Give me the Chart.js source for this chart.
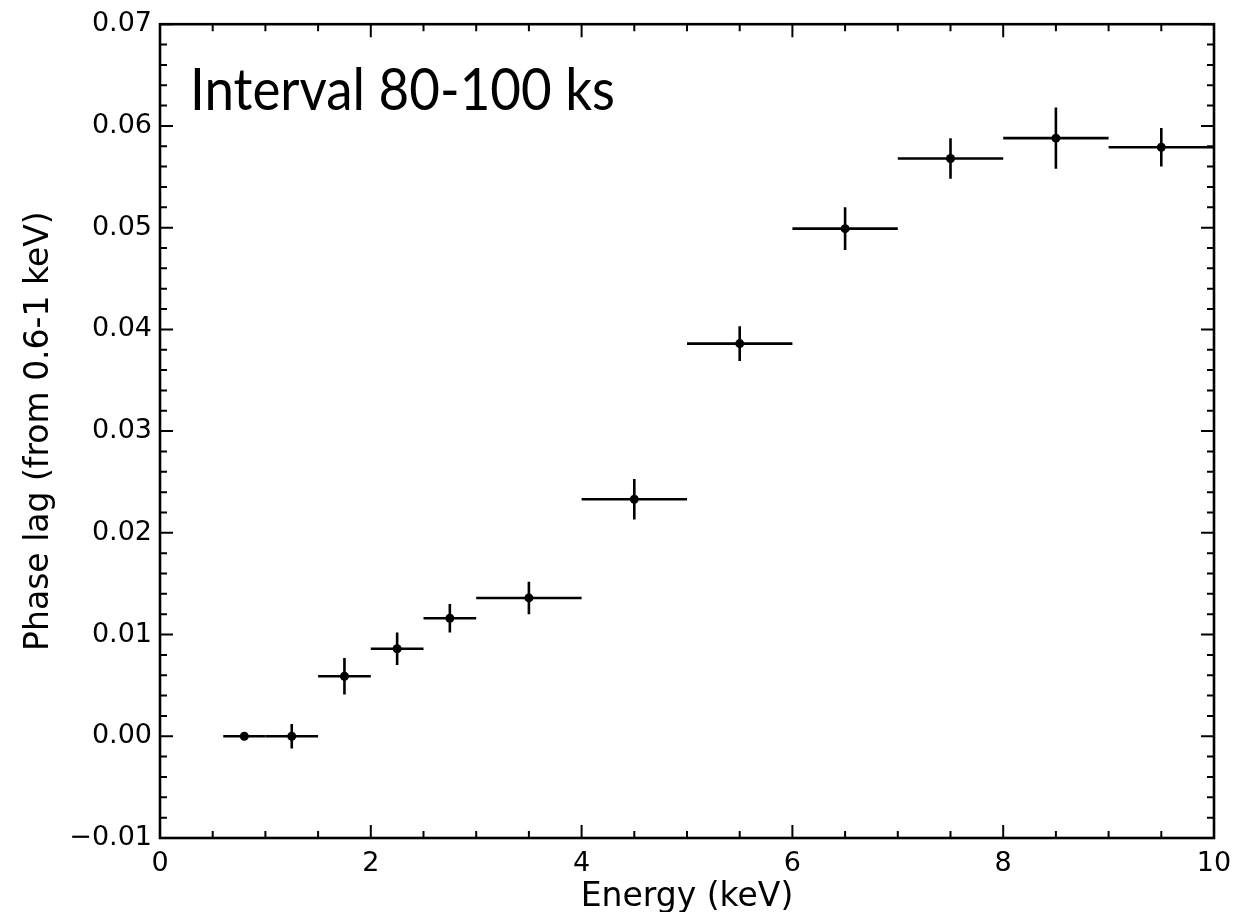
<!DOCTYPE html>
<html>
<head>
<meta charset="utf-8">
<script src="https://cdn.jsdelivr.net/npm/chart.js@4/dist/chart.umd.min.js"></script>
<style>
  html, body { margin: 0; padding: 0; background: #ffffff; }
  #wrap { width: 1258px; height: 912px; position: relative; }
</style>
</head>
<body>
<div id="wrap"><canvas id="c" width="1258" height="912"></canvas></div>
<script>
// ---- data ----
const energy   = [0.8, 1.25, 1.75, 2.25, 2.75, 3.5, 4.5, 5.5, 6.5, 7.5, 8.5, 9.5];
const binLow   = [0.6, 1.0, 1.5, 2.0, 2.5, 3.0, 4.0, 5.0, 6.0, 7.0, 8.0, 9.0];
const binHigh  = [1.0, 1.5, 2.0, 2.5, 3.0, 4.0, 5.0, 6.0, 7.0, 8.0, 9.0, 10.0];
const phaseLag = [0.0, 0.0, 0.0059, 0.0086, 0.0116, 0.0136, 0.0233, 0.0386, 0.0499, 0.0568, 0.0588, 0.0579];
const lagErr   = [0.0, 0.0012, 0.0018, 0.0016, 0.0014, 0.0016, 0.0020, 0.0017, 0.0021, 0.0020, 0.0030, 0.0019];

const xMajorTicks = [0, 2, 4, 6, 8, 10];
const yMajorTicks = [-0.01, 0.0, 0.01, 0.02, 0.03, 0.04, 0.05, 0.06, 0.07];
const xMinorStep = 0.5;
const yMinorStep = 0.002;

const annotationText = 'Interval 80-100 ks';
const xTitle = 'Energy (keV)';
const yTitle = 'Phase lag (from 0.6-1 keV)';

const axisFont = 'DejaVu Sans';

// ---- plugins ----
const errorBarPlugin = {
  id: 'errorBars',
  beforeDatasetsDraw(chart) {
    const ctx = chart.ctx;
    const xs = chart.scales.x, ys = chart.scales.y;
    ctx.save();
    ctx.strokeStyle = '#000';
    ctx.lineWidth = 2.6;
    ctx.lineCap = 'butt';
    for (let i = 0; i < energy.length; i++) {
      const yc = ys.getPixelForValue(phaseLag[i]);
      const xc = xs.getPixelForValue(energy[i]);
      ctx.beginPath();
      ctx.moveTo(xs.getPixelForValue(binLow[i]), yc);
      ctx.lineTo(xs.getPixelForValue(binHigh[i]), yc);
      if (lagErr[i] > 0) {
        ctx.moveTo(xc, ys.getPixelForValue(phaseLag[i] + lagErr[i]));
        ctx.lineTo(xc, ys.getPixelForValue(phaseLag[i] - lagErr[i]));
      }
      ctx.stroke();
    }
    ctx.restore();
  }
};

const frameTicksPlugin = {
  id: 'frameTicks',
  afterDatasetsDraw(chart) {
    const ctx = chart.ctx;
    const a = chart.chartArea;
    const xs = chart.scales.x, ys = chart.scales.y;
    const majLen = 13, minLen = 7;
    ctx.save();
    ctx.strokeStyle = '#000';
    ctx.lineWidth = 2;
    ctx.beginPath();
    const nx = Math.round((xs.max - xs.min) / xMinorStep);
    for (let k = 0; k <= nx; k++) {
      const v = xs.min + k * xMinorStep;
      const isMaj = xMajorTicks.some(t => Math.abs(t - v) < 1e-9);
      const len = isMaj ? majLen : minLen;
      const px = xs.getPixelForValue(v);
      ctx.moveTo(px, a.bottom); ctx.lineTo(px, a.bottom - len);
      ctx.moveTo(px, a.top); ctx.lineTo(px, a.top + len);
    }
    const ny = Math.round((ys.max - ys.min) / yMinorStep);
    for (let k = 0; k <= ny; k++) {
      const v = ys.min + k * yMinorStep;
      const isMaj = yMajorTicks.some(t => Math.abs(t - v) < 1e-9);
      const len = isMaj ? majLen : minLen;
      const py = ys.getPixelForValue(v);
      ctx.moveTo(a.left, py); ctx.lineTo(a.left + len, py);
      ctx.moveTo(a.right, py); ctx.lineTo(a.right - len, py);
    }
    ctx.stroke();
    ctx.lineWidth = 2.6;
    ctx.strokeRect(a.left, a.top, a.right - a.left, a.bottom - a.top);
    // annotation text (narrowed to approximate a Gill Sans look)
    ctx.fillStyle = '#000';
    ctx.font = '59px Lato';
    ctx.textBaseline = 'alphabetic';
    ctx.textAlign = 'left';
    const w = ctx.measureText(annotationText).width;
    const sx = 425 / w;
    ctx.translate(a.left + 30, a.top + 86);
    ctx.scale(sx, 1);
    ctx.fillText(annotationText, 0, 0);
    ctx.restore();
  }
};

const fmtY = v => {
  const s = Number(v).toFixed(2);
  return s.startsWith('-') ? '\u2212' + s.slice(1) : s;
};

new Chart(document.getElementById('c'), {
  type: 'scatter',
  data: {
    datasets: [{
      data: energy.map((e, i) => ({ x: e, y: phaseLag[i] })),
      backgroundColor: '#000',
      borderColor: '#000',
      pointRadius: 4.5,
      pointHoverRadius: 4.5,
      pointBorderWidth: 0,
      showLine: false
    }]
  },
  options: {
    responsive: false,
    animation: false,
    devicePixelRatio: 1,
    layout: { padding: { top: 20, right: 44, left: 0, bottom: 0 } },
    plugins: { legend: { display: false }, tooltip: { enabled: false } },
    scales: {
      x: {
        type: 'linear',
        min: 0, max: 10,
        afterBuildTicks(scale) { scale.ticks = xMajorTicks.map(v => ({ value: v })); },
        afterFit(scale) { scale.height = 74; },
        grid: { display: false, drawTicks: false },
        border: { display: false },
        ticks: {
          autoSkip: false, maxRotation: 0, padding: 10,
          color: '#000', font: { family: axisFont, size: 27 },
          callback: v => String(v)
        },
        title: {
          display: true, text: xTitle, color: '#000',
          font: { family: axisFont, size: 33 }, padding: { top: 0, bottom: -5 }
        }
      },
      y: {
        type: 'linear',
        min: -0.01, max: 0.07,
        afterBuildTicks(scale) { scale.ticks = yMajorTicks.map(v => ({ value: v })); },
        afterFit(scale) { scale.width = 160; },
        grid: { display: false, drawTicks: false },
        border: { display: false },
        ticks: {
          autoSkip: false, padding: 8,
          color: '#000', font: { family: axisFont, size: 27 },
          callback: v => fmtY(v)
        },
        title: {
          display: true, text: yTitle, color: '#000',
          font: { family: axisFont, size: 33 }, padding: { top: 20, bottom: 0 }
        }
      }
    }
  },
  plugins: [errorBarPlugin, frameTicksPlugin]
});
</script>
</body>
</html>
